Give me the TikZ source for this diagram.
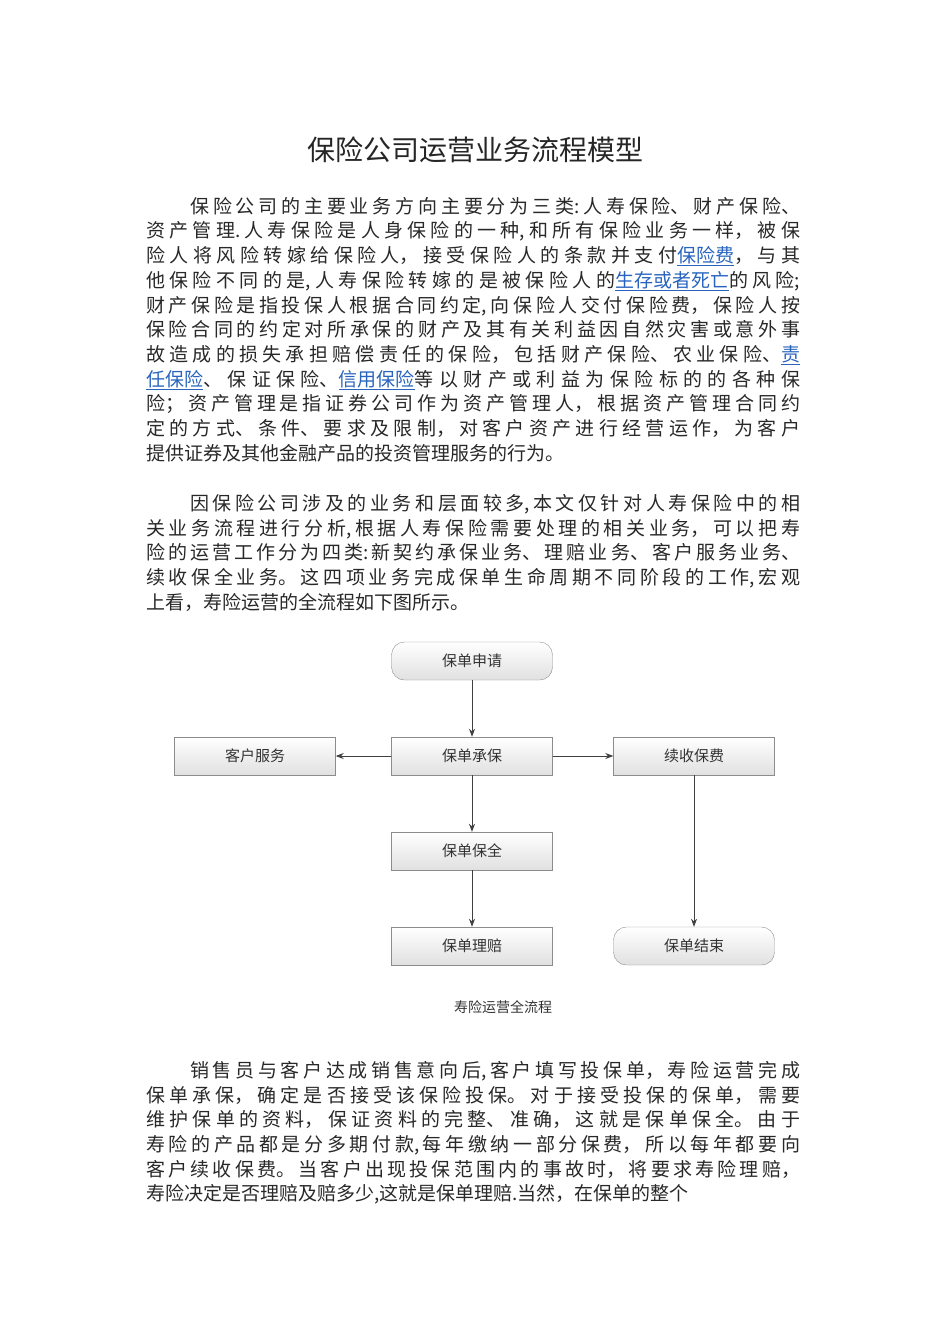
\documentclass[tikz,border=0pt]{standalone}
\usepackage{fontspec}
\setmainfont{Noto Sans CJK SC}
\usetikzlibrary{arrows.meta}
\definecolor{linkblue}{RGB}{40,100,190}
\definecolor{txt}{RGB}{40,40,40}
\newcommand{\lk}[1]{\textcolor{linkblue}{\underline{#1}}}
\tikzset{
  para/.style={anchor=north west,inner sep=0pt,text width=654pt,align=justify,font=\fontsize{19pt}{24.7pt}\selectfont,text=txt},
  pbox/.style={draw=black!45,minimum width=161pt,minimum height=38pt,top color=white,bottom color=black!12,font=\fontsize{15pt}{18pt}\selectfont,text=black!80,
    append after command={[draw=black!40] ([xshift=12pt]\tikzlastnode.north west) -- ([xshift=12pt]\tikzlastnode.south west)
      ([xshift=-12pt]\tikzlastnode.north east) -- ([xshift=-12pt]\tikzlastnode.south east)}},
  pterm/.style={pbox,rounded corners=13pt},
  arr/.style={-{Stealth[length=8pt,width=6pt]},draw=black!75,line width=0.9pt}
}
\begin{document}
\begin{tikzpicture}[x=1pt,y=-1pt]
\useasboundingbox (0,0) rectangle (950,1344);
\XeTeXlinebreaklocale "zh"
\XeTeXlinebreakskip=0pt plus 4pt
\node[font=\fontsize{28pt}{32pt}\selectfont,text=black!85] (title) at (475,150) {保险公司运营业务流程模型};
\node[para] (p1) at (146,197) {\hspace*{44pt}保险公司的主要业务方向主要分为三类:人寿保险、财产保险、\linebreak
资产管理.人寿保险是人身保险的一种,和所有保险业务一样，被保\linebreak
险人将风险转嫁给保险人，接受保险人的条款并支付\lk{保险费}，与其\linebreak
他保险不同的是,人寿保险转嫁的是被保险人的\lk{生存或者死亡}的风险;\linebreak
财产保险是指投保人根据合同约定,向保险人交付保险费，保险人按\linebreak
保险合同的约定对所承保的财产及其有关利益因自然灾害或意外事\linebreak
故造成的损失承担赔偿责任的保险，包括财产保险、农业保险、\lk{责}\linebreak
\lk{任保险}、保证保险、\lk{信用保险}等以财产或利益为保险标的的各种保\linebreak
险；资产管理是指证券公司作为资产管理人，根据资产管理合同约\linebreak
定的方式、条件、要求及限制，对客户资产进行经营运作，为客户\linebreak
提供证券及其他金融产品的投资管理服务的行为。};
\node[para] (p2) at (146,494) {\hspace*{44pt}因保险公司涉及的业务和层面较多,本文仅针对人寿保险中的相\linebreak
关业务流程进行分析,根据人寿保险需要处理的相关业务，可以把寿\linebreak
险的运营工作分为四类:新契约承保业务、理赔业务、客户服务业务、\linebreak
续收保全业务。这四项业务完成保单生命周期不同阶段的工作,宏观\linebreak
上看，寿险运营的全流程如下图所示。};
\node[para] (p3) at (146,1061) {\parfillskip=0pt\hspace*{44pt}销售员与客户达成销售意向后,客户填写投保单，寿险运营完成\linebreak
保单承保，确定是否接受该保险投保。对于接受投保的保单，需要\linebreak
维护保单的资料，保证资料的完整、准确，这就是保单保全。由于\linebreak
寿险的产品都是分多期付款,每年缴纳一部分保费，所以每年都要向\linebreak
客户续收保费。当客户出现投保范围内的事故时，将要求寿险理赔，\linebreak
寿险决定是否理赔及赔多少,这就是保单理赔.当然，在保单的整个};
\node[pterm] (sq) at (472,661) {保单申请};
\node[pbox] (cb) at (472,756) {保单承保};
\node[pbox] (kf) at (255,756) {客户服务};
\node[pbox] (xs) at (694,756) {续收保费};
\node[pbox] (bq) at (472,851) {保单保全};
\node[pbox] (lp) at (472,946) {保单理赔};
\node[pterm] (js) at (694,946) {保单结束};
\draw[arr] (sq) -- (cb);
\draw[arr] (cb) -- (kf);
\draw[arr] (cb) -- (xs);
\draw[arr] (cb) -- (bq);
\draw[arr] (bq) -- (lp);
\draw[arr] (xs) -- (js);
\node[font=\fontsize{14pt}{16pt}\selectfont,text=black!80] (cap) at (503,1007) {寿险运营全流程};
\end{tikzpicture}
\end{document}
